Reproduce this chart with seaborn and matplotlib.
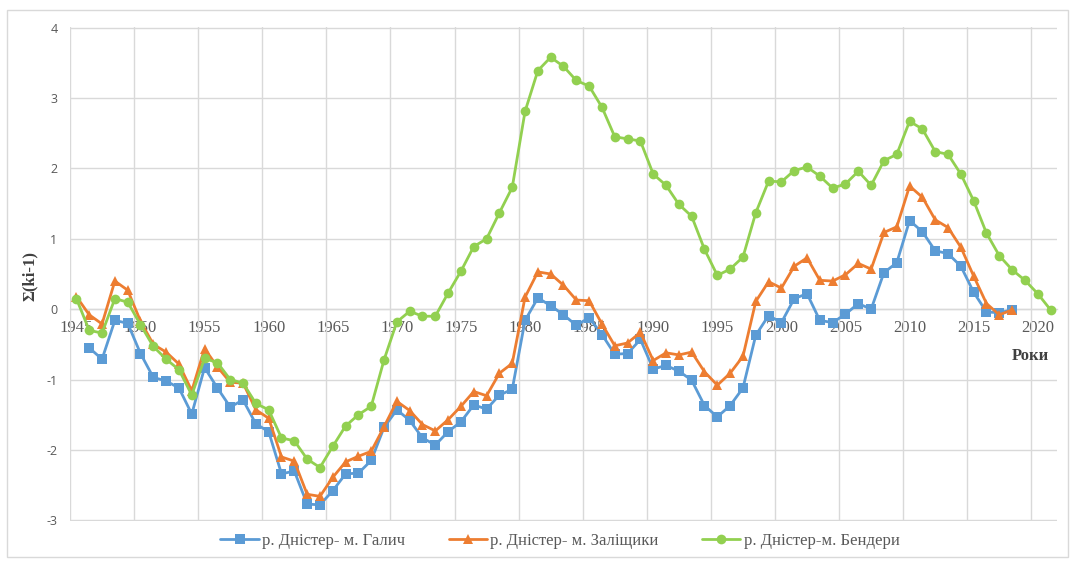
import matplotlib
matplotlib.use("Agg")
import matplotlib.pyplot as plt
import seaborn as sns
import pandas as pd
from matplotlib.ticker import FixedLocator, NullFormatter
from matplotlib.patches import Rectangle

# Cumulative deviation curves Σ(ki-1) for the Dniester river gauging stations
years_galych = list(range(1946, 2019))
galych = [-0.55, -0.71, -0.16, -0.20, -0.63, -0.97, -1.02, -1.12, -1.49,
          -0.83, -1.12, -1.39, -1.29, -1.63, -1.74,
          -2.34, -2.30, -2.77, -2.78, -2.58, -2.34, -2.33, -2.15, -1.68, -1.43,
          -1.58, -1.83, -1.93, -1.74, -1.60,
          -1.36, -1.42, -1.22, -1.14, -0.16,
          0.16, 0.05, -0.08, -0.23, -0.12,
          -0.36, -0.64, -0.63, -0.43, -0.85,
          -0.80, -0.88, -1.01, -1.37, -1.53,
          -1.37, -1.12, -0.37, -0.09, -0.19,
          0.15, 0.22, -0.16, -0.19, -0.07,
          0.08, 0.00, 0.52, 0.66, 1.26,
          1.10, 0.83, 0.79, 0.61, 0.24,
          -0.04, -0.05, -0.01]

years_zalishchyky = list(range(1945, 2019))
zalishchyky = [0.18, -0.08, -0.21, 0.40, 0.27, -0.17, -0.50, -0.61, -0.78, -1.16,
               -0.56, -0.82, -1.04, -1.05, -1.43, -1.55,
               -2.10, -2.16, -2.63, -2.66, -2.39, -2.17, -2.09, -2.02, -1.67, -1.31,
               -1.44, -1.64, -1.73, -1.57, -1.38,
               -1.17, -1.23, -0.91, -0.77, 0.17,
               0.53, 0.50, 0.34, 0.13, 0.12,
               -0.21, -0.52, -0.48, -0.33, -0.73,
               -0.62, -0.65, -0.61, -0.89, -1.08,
               -0.91, -0.67, 0.11, 0.39, 0.30,
               0.61, 0.73, 0.41, 0.40, 0.49,
               0.65, 0.57, 1.09, 1.17, 1.75,
               1.59, 1.27, 1.16, 0.88, 0.47,
               0.08, -0.08, -0.01]

years_bendery = list(range(1945, 2022))
bendery = [0.15, -0.30, -0.34, 0.15, 0.10, -0.22, -0.53, -0.71, -0.86, -1.22,
           -0.70, -0.76, -1.00, -1.05, -1.34, -1.43,
           -1.83, -1.87, -2.13, -2.25, -1.95, -1.66, -1.50, -1.38, -0.72, -0.18,
           -0.03, -0.10, -0.10, 0.23, 0.54,
           0.89, 1.00, 1.37, 1.73, 2.81,
           3.39, 3.58, 3.45, 3.25, 3.17,
           2.87, 2.45, 2.42, 2.39, 1.92,
           1.76, 1.49, 1.32, 0.85, 0.48,
           0.57, 0.74, 1.37, 1.82, 1.81,
           1.97, 2.02, 1.89, 1.72, 1.78,
           1.96, 1.76, 2.11, 2.20, 2.67,
           2.56, 2.24, 2.20, 1.92, 1.54,
           1.08, 0.76, 0.56, 0.41, 0.22,
           -0.01]

series_names = ["р. Дністер- м. Галич", "р. Дністер- м. Заліщики", "р. Дністер-м. Бендери"]
x_tick_years = list(range(1945, 2021, 5))
y_ticks = list(range(-3, 5))

sns.set_theme(style="white")
plt.rcParams["font.family"] = ["Liberation Serif", "DejaVu Serif"]
plt.rcParams["axes.unicode_minus"] = False

W, H = 1073, 565
fig = plt.figure(figsize=(W / 100, H / 100), dpi=100)
ax = fig.add_axes([70 / W, 1 - 521 / H, (1057 - 70) / W, (521 - 27) / H])

grid_c = "#d9d9d9"
styles = [
    (years_galych, galych, "#5b9bd5", "s", 6.5),
    (years_zalishchyky, zalishchyky, "#ed7d31", "^", 7.5),
    (years_bendery, bendery, "#92d050", "o", 7.0),
]
for (yrs, vals, col, mk, ms), name in zip(styles, series_names):
    df = pd.DataFrame({"year": yrs, "value": vals})
    sns.lineplot(data=df, x="year", y="value", color=col, marker=mk,
                 markersize=ms, markeredgewidth=0, linewidth=2.0,
                 label=name, legend=False, ax=ax, zorder=3)

ax.set_xlim(1944.5, 2021.5)
ax.set_ylim(-3.01, 4.01)

# category-style axis: labels on the years, grid lines between categories
ax.xaxis.set_major_locator(FixedLocator(x_tick_years))
ax.xaxis.set_minor_locator(FixedLocator([y - 0.5 for y in x_tick_years]))
ax.xaxis.set_minor_formatter(NullFormatter())
ax.set_yticks(y_ticks)
ax.grid(False)
ax.grid(True, which="minor", axis="x", color=grid_c, linewidth=1.0)
ax.grid(True, which="major", axis="y", color=grid_c, linewidth=1.0)
ax.set_axisbelow(True)

for s in ("top", "right", "left"):
    ax.spines[s].set_visible(False)
ax.spines["bottom"].set_position(("data", 0))
ax.spines["bottom"].set_color(grid_c)
ax.spines["bottom"].set_linewidth(1.0)

ax.tick_params(axis="x", which="both", length=0, pad=7.5, labelsize=12,
               labelcolor="#595959")
ax.tick_params(axis="y", length=0, pad=9, labelcolor="#595959")
for lbl in ax.get_yticklabels():
    lbl.set_fontfamily(["Open Sans", "DejaVu Sans"])
    lbl.set_fontsize(9)
ax.set_xlabel("")
ax.set_ylabel("")

fig.text(30 / W, 1 - 276 / H, "Σ(ki-1)", rotation=90, ha="center", va="center",
         fontsize=12, fontweight="bold", color="#404040")
fig.text(1030 / W, 1 - 356 / H, "Роки", ha="center", va="center",
         fontsize=12, fontweight="bold", color="#404040")

handles, labels = ax.get_legend_handles_labels()
fig.legend(handles, labels, loc="center", bbox_to_anchor=(560 / W, 1 - 541 / H),
           ncol=3, frameon=False, fontsize=12, labelcolor="#595959",
           handlelength=2.3, handletextpad=0.2, columnspacing=2.6)

fig.patches.append(Rectangle((7 / W, 1 - 557 / H), (1068 - 7) / W, (557 - 10) / H,
                             transform=fig.transFigure, fill=False,
                             edgecolor=grid_c, linewidth=1.0))

fig.savefig("out.png", dpi=100, facecolor="white")
